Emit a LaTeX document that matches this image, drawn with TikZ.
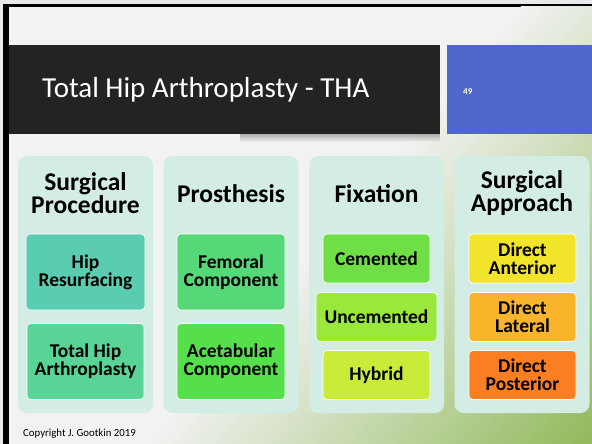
\documentclass[tikz,border=0pt]{standalone}
\usepackage{fontspec}
\setmainfont{Carlito}
\usetikzlibrary{fadings}
\definecolor{outerbg}{HTML}{E9E9E9}
\definecolor{slidebg}{HTML}{F2F2F2}
\definecolor{glowA}{HTML}{91B95A}
\definecolor{barc}{HTML}{232323}
\definecolor{bluec}{HTML}{4F67C8}
\definecolor{panelc}{HTML}{D3EDE4}
\definecolor{cA}{HTML}{5ACDB0}
\definecolor{cB}{HTML}{57D496}
\definecolor{cC}{HTML}{55D878}
\definecolor{cD}{HTML}{55E04B}
\definecolor{cE}{HTML}{6EE046}
\definecolor{cF}{HTML}{9BE83C}
\definecolor{cG}{HTML}{C8EC38}
\definecolor{cH}{HTML}{F2E42A}
\definecolor{cI}{HTML}{F8B42A}
\definecolor{cJ}{HTML}{FC7E22}
\tikzfading[name=shadowfade, top color=transparent!0, bottom color=transparent!100]
\begin{document}
\begin{tikzpicture}[x=1pt, y=-1pt,
  panel/.style={fill=panelc, rounded corners=9pt, minimum width=135pt, minimum height=257pt, inner sep=0pt},
  header/.style={font=\bfseries\fontsize{25.5}{23}\selectfont, align=center, text=black, inner sep=0pt},
  item/.style={draw=white, line width=0.6pt, rounded corners=4pt, inner sep=0pt, align=center, text=black, font=\bfseries\fontsize{19.5}{18}\selectfont},
  tall/.style={minimum height=76pt},
  short/.style={minimum height=49pt}]
\useasboundingbox (0,0) rectangle (592,444);
\fill[outerbg] (0,0) rectangle (592,444);
\fill[black] (3,4) rectangle (592,444);
\begin{scope}
  \clip (9,7) rectangle (592,444);
  \fill[slidebg] (9,7) rectangle (592,444);
  % diagonal green gradient towards the lower right corner
  \foreach \i [evaluate=\i as \s using 400+\i*3.7556, evaluate=\i as \p using int(round(\i*1.1111))] in {0,...,90}{
    \fill[glowA!\p!slidebg]
      ({\s*0.760+585},{\s*0.650-684}) -- ({\s*0.760-585},{\s*0.650+684})
      -- ({1000*0.760-585},{1000*0.650+684}) -- ({1000*0.760+585},{1000*0.650-684}) -- cycle;
  }
  \fill[black, opacity=0.28, path fading=shadowfade] (240,134) rectangle (440,142);
\end{scope}
% title bar and number box
\node[fill=barc, minimum width=431pt, minimum height=89pt, inner sep=0pt, anchor=north west] (bar) at (9,45) {};
\node[fill=bluec, minimum width=145pt, minimum height=89pt, inner sep=0pt, anchor=north west] (numbox) at (447,45) {};
\node[anchor=base west, text=white, inner sep=0pt, font=\fontsize{29}{34}\selectfont] (title) at (42,98) {Total Hip Arthroplasty - THA};
\node[anchor=base west, text=white, inner sep=0pt, font=\bfseries\fontsize{9}{10}\selectfont] (num) at (463,95) {49};
% panels
\node[panel] (p1) at (85.5,284.5) {};
\node[panel] (p2) at (231,284.5) {};
\node[panel] (p3) at (376.5,284.5) {};
\node[panel] (p4) at (522,284.5) {};
\node[header] (h1) at (85.5,193.5) {Surgical\\Procedure};
\node[header] (h2) at (231,193.5) {Prosthesis};
\node[header] (h3) at (376.5,193.5) {Fixation};
\node[header] (h4) at (522,193.5) {Surgical\\Approach};
% items
\node[item, tall, fill=cA, minimum width=119pt] (i1) at (85.5,272) {Hip\\Resurfacing};
\node[item, tall, fill=cB, minimum width=117pt] (i2) at (85.5,361.5) {Total Hip\\Arthroplasty};
\node[item, tall, fill=cC, minimum width=108pt] (i3) at (231,272) {Femoral\\Component};
\node[item, tall, fill=cD, minimum width=108pt] (i4) at (231,361.5) {Acetabular\\Component};
\node[item, short, fill=cE, minimum width=107pt] (i5) at (376.5,258.5) {Cemented};
\node[item, short, fill=cF, minimum width=121pt] (i6) at (376.5,317) {Uncemented};
\node[item, short, fill=cG, minimum width=107pt] (i7) at (376.5,375) {Hybrid};
\node[item, short, fill=cH, minimum width=107pt] (i8) at (522.5,258.5) {Direct\\Anterior};
\node[item, short, fill=cI, minimum width=107pt] (i9) at (522.5,317) {Direct\\Lateral};
\node[item, short, fill=cJ, minimum width=107pt] (i10) at (522.5,375) {Direct\\Posterior};
% footer
\node[anchor=base west, inner sep=0pt, text=black, font=\fontsize{10.8}{12}\selectfont] (copy) at (23,436) {Copyright J.\ Gootkin 2019};
\end{tikzpicture}
\end{document}
